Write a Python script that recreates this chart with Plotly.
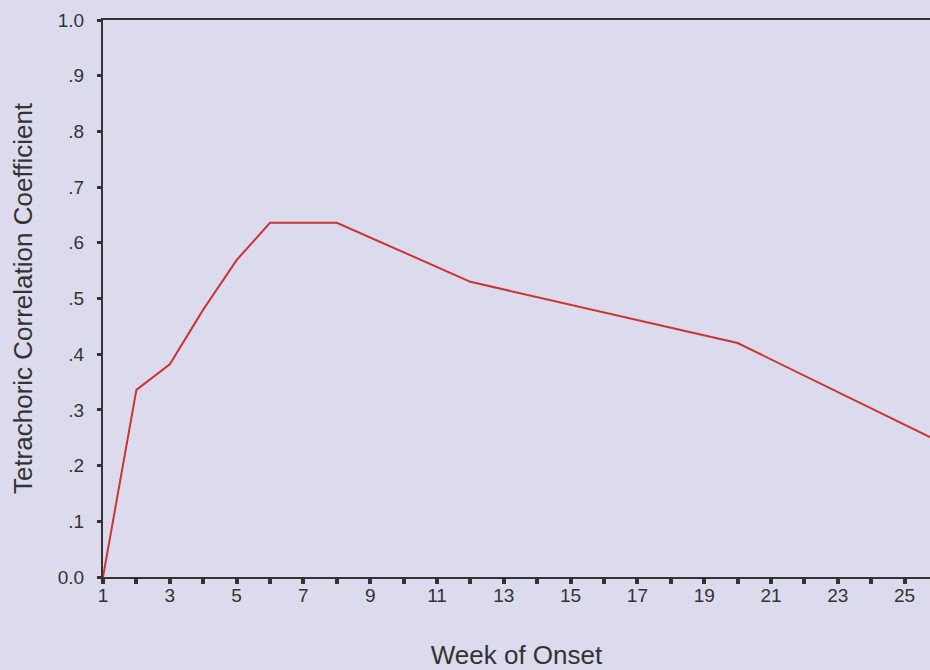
import plotly.graph_objects as go

## data
weeks = [1, 2, 3, 4, 5, 6, 7, 8, 12, 20, 26]
coef = [0.0, 0.336, 0.382, 0.48, 0.569, 0.636, 0.636, 0.636, 0.53, 0.42, 0.244]

xtickvals = list(range(1, 27))
xticktext = [str(v) if v % 2 == 1 else '' for v in xtickvals]
ytickvals = [0.0, 0.1, 0.2, 0.3, 0.4, 0.5, 0.6, 0.7, 0.8, 0.9, 1.0]
yticktext = ['0.0', '.1', '.2', '.3', '.4', '.5', '.6', '.7', '.8', '.9', '1.0']

bg = '#dcdbee'
ink = '#333333'

fig = go.Figure()
fig.add_trace(go.Scatter(x=weeks, y=coef, mode='lines',
                         line=dict(color='#cc3333', width=2),
                         showlegend=False))

## x axis: ticks every week, labels on odd weeks, box line on top
fig.update_xaxes(range=[1, 25.76],
                 tickvals=xtickvals, ticktext=xticktext,
                 ticks='outside', ticklen=5, tickwidth=4, tickcolor=ink,
                 ticklabelstandoff=-5,
                 showline=True, linecolor=ink, linewidth=2, mirror=True,
                 showgrid=False, zeroline=False,
                 tickfont=dict(size=19, color=ink),
                 title=dict(text='Week of Onset', font=dict(size=26, color=ink), standoff=45),
                 automargin=False,
                 )
fig.update_yaxes(range=[0, 1],
                 tickvals=ytickvals, ticktext=yticktext,
                 ticks='outside', ticklen=4, tickwidth=3, tickcolor=ink,
                 ticklabelstandoff=9,
                 showline=True, linecolor=ink, linewidth=2,
                 showgrid=False, zeroline=False,
                 tickfont=dict(size=19, color=ink),
                 title=dict(text='Tetrachoric Correlation Coefficient',
                            font=dict(size=26, color=ink), standoff=18),
                 automargin=False,
                 )

fig.update_layout(width=930, height=670,
                  margin=dict(l=103, r=0, t=20, b=93),
                  plot_bgcolor=bg, paper_bgcolor=bg,
                  font=dict(family='Liberation Sans, Arial, sans-serif', color=ink),
                  )

## drop the page's default body margin so the figure sits at the window corner
fig.write_html("out.html", config={'displayModeBar': False},
               post_script="document.body.style.margin='0px';")
